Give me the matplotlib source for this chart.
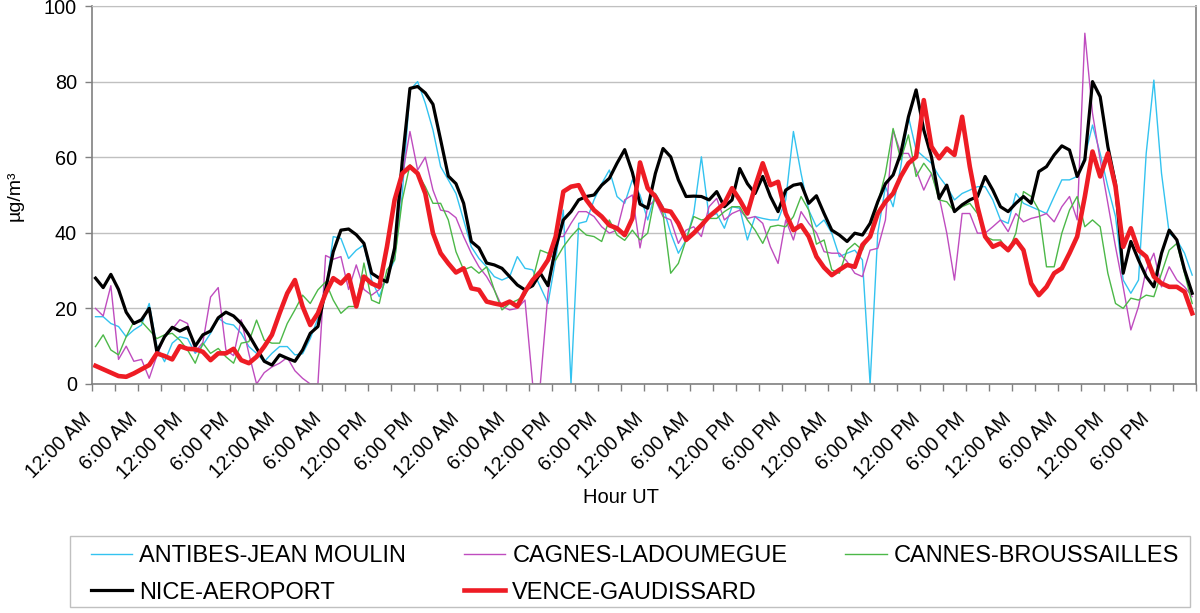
import numpy as np
import matplotlib
matplotlib.use("Agg")
import matplotlib.pyplot as plt
import matplotlib.patches as mpatches
import matplotlib.transforms as mtransforms

plt.rcParams['font.family'] = ['Liberation Sans', 'DejaVu Sans']

# hourly means, 6 days (144 hours)
antibes = [17.8, 17.8, 16, 15.2, 12.5, 14.3, 15.6, 21.3, 9.9, 5.9, 10.8, 12.5, 12, 8.1, 10.3, 13.4, 17.4, 16, 15.6, 13.4, 9.9, 8.1, 5.9, 8.1,
           9.9, 9.9, 7.7, 8, 12, 17.4, 24, 39, 38.5, 33.2, 35.4, 36.8, 27.5, 23.1, 28.4, 32.8, 50.4, 77.8, 80, 74.3, 67.2, 57.5, 54, 50.4,
           43.4, 36.3, 33.2, 31, 28.4, 27.5, 28.4, 33.7, 30.6, 30.2, 25.7, 21.3, 33, 46, 0, 42.5, 43, 48.7, 53, 56.6, 49.6, 47.8, 54, 50,
           43.4, 50.4, 46.9, 39.9, 34.6, 38.1, 45.1, 60.1, 44.3, 45.1, 41.2, 46.9, 46.5, 38.1, 44.3, 43.8, 43.4, 43.4, 48.7, 66.8, 55.7, 46, 41.6, 43.4,
           39.9, 33.7, 34.6, 35.4, 32.8, 0, 39.9, 52.2, 46.9, 57.5, 70.7, 61.9, 60.1, 58.4, 54.9, 52.2, 48.7, 50.4, 51.3, 52.2, 52.2, 48.7, 43.4, 42.5,
           50.4, 47.8, 46.9, 46, 45.1, 49.6, 54, 54, 54.9, 60.1, 68.5, 61, 52.2, 44.3, 27.5, 24, 27.5, 61, 80.4, 55.7, 39.9, 38.1, 34.6, 28.8]

cagnes = [20, 18, 26, 6.5, 10, 6, 6.5, 1.5, 7.5, 12.5, 14.5, 17, 16, 8.5, 11, 23, 25.5, 9, 7.5, 17, 8, 0, 3, 4.5,
          5.5, 7, 3.5, 1.5, 0, 0, 34, 33, 33.7, 25, 31.5, 25, 23.5, 25, 28, 34.6, 55, 66.8, 56.6, 60, 51.3, 46, 45.6, 44,
          39, 34.6, 31, 28.4, 24.9, 20.5, 19.6, 20, 22.2, 0, 0, 24, 39, 39, 42.5, 45.6, 45.6, 44.3, 41.6, 39.9, 40.7, 48.7, 50, 36,
          46.9, 48.7, 44.3, 43.4, 37.2, 40.7, 41.6, 39, 46.9, 49.1, 43.4, 45.1, 46, 43.8, 44.3, 42.5, 36.3, 31.9, 43.4, 38.1, 45.6, 42.5, 40, 35,
          34.6, 34.6, 32.4, 29.3, 28.4, 35.4, 35.9, 43.4, 67.2, 61, 61, 56.6, 51.3, 55.7, 49.6, 39.9, 27.5, 45.1, 45.1, 39.9, 39.9, 41.6, 43.4, 40.3,
          45.1, 42.9, 43.8, 44.3, 45.1, 42.9, 46.9, 49.6, 43.4, 92.8, 71.6, 59.3, 47.8, 36.3, 25.7, 14.3, 20.5, 30.2, 34.6, 25.7, 31, 27.5, 25.7, 23.1]

cannes = [9.9, 13, 9, 7.7, 12.5, 16.5, 16.5, 14.3, 12, 13, 13.4, 11.6, 9, 5.5, 10.8, 8.1, 9.4, 7.2, 5.5, 10.8, 11.2, 16.9, 11.6, 10.8,
          10.8, 16, 19.6, 23.5, 21.3, 24.9, 27, 22.2, 18.7, 20.5, 20.5, 32, 22.2, 21.3, 30.2, 32.8, 48.7, 58, 55.7, 52.2, 47.8, 47.8, 43.4, 35,
          30.2, 31, 29.3, 31, 24.9, 19.6, 21.3, 22.2, 23.5, 27.5, 35.4, 34.6, 32.8, 36.3, 39, 41.2, 39.4, 39, 37.7, 43.4, 39.4, 38, 40.7, 38.1,
          39.9, 50.4, 45.1, 29.3, 31.9, 38.1, 44.3, 43.4, 43.8, 43.8, 45.6, 46.9, 46.9, 43.4, 40.7, 37.2, 41.6, 42, 41.6, 44.3, 49.6, 46, 37, 38.1,
          30.2, 29.3, 35.4, 37.2, 35.4, 39.9, 47.8, 55.7, 67.6, 59.3, 65.9, 54.9, 58.4, 55.7, 48.7, 48.2, 45.6, 46.9, 47.8, 45.1, 39, 38.1, 38.1, 35,
          39.9, 50.9, 49.6, 46, 31, 31, 39.9, 46, 49.6, 41.6, 43.4, 41.6, 29.3, 21.3, 20, 22.7, 22.2, 23.5, 23.1, 29.3, 35.4, 37.2, 29.3, 21.3]

nice = [28, 25.5, 29, 25, 19, 16, 17, 20, 8.5, 12.5, 15, 14, 15, 10, 13, 14, 17.5, 19, 18, 16, 13, 9.5, 6, 5,
        7.7, 6.8, 6, 9, 13.4, 15.2, 25, 35, 40.7, 41, 39.5, 37.2, 29.3, 28, 27, 36, 59, 78.2, 78.7, 77, 74, 64.6, 55, 53,
        47.8, 37.7, 36, 32, 31.5, 30.6, 28.4, 26.2, 24.9, 26, 29.3, 26, 36, 43.4, 45.6, 48.7, 49.6, 50, 52.6, 54.4, 58.4, 62, 56, 47.6,
        46.5, 55.7, 62.3, 60.1, 54, 49.6, 49.7, 49.6, 48.7, 50.9, 46.9, 48.7, 57, 53, 50.4, 54.9, 49.6, 45.6, 51.3, 52.6, 53, 47.8, 49.8, 45.1,
        40.7, 39.4, 37.7, 39.9, 39.4, 42.5, 48.2, 53, 55.3, 61, 70.7, 77.8, 67.2, 60.1, 49.1, 52.6, 45.6, 47.4, 48.7, 49.6, 54.9, 51.3, 46.9, 45.6,
        47.8, 49.6, 47.8, 56.2, 57.5, 60.6, 63, 61.9, 54.9, 59.3, 80, 76, 62.8, 53, 29.3, 37.7, 32.8, 28.4, 25.7, 34.6, 40.7, 38.1, 30.2, 24]

vence = [4.8, 3.9, 3, 2.1, 1.9, 2.8, 3.9, 5, 8.1, 7.4, 6.5, 10, 9.3, 9.2, 8.5, 6.3, 8.1, 8.1, 9.3, 6.3, 5.5, 7.2, 9.9, 13,
         18.7, 24, 27.5, 20.5, 15.6, 18.7, 24, 28, 26.6, 28.8, 20.5, 28.4, 26.6, 25.7, 36.3, 48.7, 55.7, 57.5, 55.7, 50.4, 39.9, 34.6, 31.9, 29.5,
         30.6, 25.3, 24.9, 21.8, 21.3, 20.9, 21.8, 20.5, 24.4, 27.5, 29.7, 32.8, 39, 50.9, 52.2, 52.6, 48.7, 46, 44.3, 42, 41.2, 39.4, 43.8, 58.6,
         51.8, 49.6, 46, 45.6, 42.5, 38.1, 39.9, 42, 44.3, 46, 47.8, 51.8, 48.7, 45.1, 52.2, 58.4, 52.6, 53.5, 45.1, 40.7, 42, 39, 33.7, 30.8,
         28.8, 30.2, 31.5, 31, 36.8, 39, 45.1, 48.2, 50.4, 54.9, 58.4, 60.1, 75.1, 62.8, 59.7, 62.3, 60.6, 70.7, 57.5, 46.9, 39, 36.3, 37.2, 35.4,
         38.1, 35.4, 26.6, 23.5, 25.7, 29.3, 30.6, 34.6, 39, 49.6, 61.5, 54.9, 61, 52.2, 36.3, 41.2, 35.4, 33.7, 28.4, 26.6, 25.7, 25.7, 24.4, 18.7]

station_names = ["ANTIBES-JEAN MOULIN", "CAGNES-LADOUMEGUE", "CANNES-BROUSSAILLES",
                 "NICE-AEROPORT", "VENCE-GAUDISSARD"]
hour_labels = ["12:00 AM", "6:00 AM", "12:00 PM", "6:00 PM"]
n_days = 6

hours = np.arange(len(nice)) + 0.5

fig = plt.figure(figsize=(12, 6.13), dpi=100)
ax = fig.add_axes([0.0764, 0.3736, 0.9203, 0.6166])

l1, = ax.plot(hours, antibes, color="#33c3f0", lw=1.0)
l2, = ax.plot(hours, cagnes, color="#bf4cbf", lw=1.0)
l3, = ax.plot(hours, cannes, color="#4cb848", lw=1.0)
l4, = ax.plot(hours, nice, color="black", lw=2.3, solid_joinstyle="round")
l5, = ax.plot(hours, vence, color="#ee1c24", lw=3.3, solid_joinstyle="round")

ax.set_xlim(0, 24 * n_days)
ax.set_ylim(0, 100)

# ticks every 3 hours, labels every 6
xt = np.arange(0, 24 * n_days + 1, 3)
xl = []
for k in range(len(xt)):
    if k % 2 == 0 and k // 2 < 4 * n_days:
        xl.append(hour_labels[(k // 2) % 4])
    else:
        xl.append("")
ax.set_xticks(xt)
ax.set_xticklabels(xl, rotation=45, ha="right", va="top", rotation_mode="anchor")
ax.set_yticks(range(0, 101, 20))
ax.tick_params(axis="x", length=5, width=1, color="#808080", labelsize=14.3, pad=13)
ax.tick_params(axis="y", length=5, width=1, color="#808080", labelsize=14.3, pad=5.5)

# nudge the slanted labels left, like the original
shift = mtransforms.ScaledTranslation(-10 / 100, 0, fig.dpi_scale_trans)
for lbl in ax.get_xticklabels():
    lbl.set_transform(lbl.get_transform() + shift)

ax.yaxis.grid(True, color="#c0c0c0", lw=1)
ax.set_axisbelow(True)
for s in ["left", "bottom", "right"]:
    ax.spines[s].set_color("#808080")
    ax.spines[s].set_linewidth(1.2)
ax.spines["top"].set_color("#c0c0c0")

fig.text(0.0125, 0.680, "µg/m³", rotation=90, ha="center", va="center", fontsize=14)
fig.text(0.5175, 0.189, "Hour UT", ha="center", va="center", fontsize=14.5)

# reorder so the legend fills row by row
handles = [l1, l4, l2, l5, l3]
labels = [station_names[0], station_names[3], station_names[1], station_names[4], station_names[2]]
leg = fig.legend(handles, labels, ncol=3, loc="center left",
                 bbox_to_anchor=(91 / 1200, 0.0628, 1088 / 1200, 0), mode="expand",
                 fontsize=17, frameon=False, borderaxespad=0, borderpad=0,
                 handlelength=1.75, handletextpad=0.3, labelspacing=0.6)

box = mpatches.Rectangle((70 / 1200, 1 - 607 / 613), 1120 / 1200, 71 / 613,
                         transform=fig.transFigure, fill=False,
                         edgecolor="#c0c0c0", lw=1)
fig.add_artist(box)

fig.savefig("out.png", dpi=100)
